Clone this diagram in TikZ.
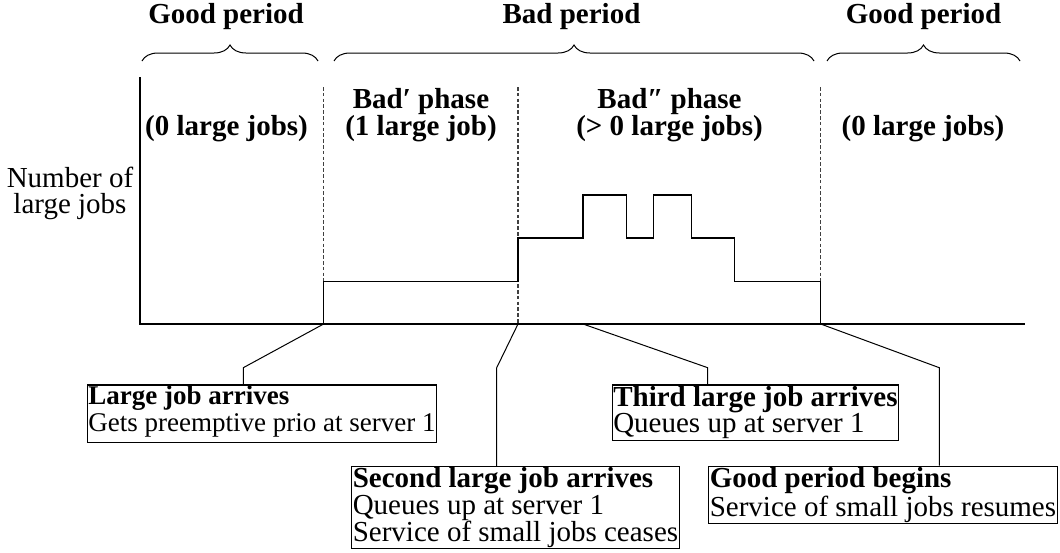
\documentclass[tikz,border=0pt]{standalone}
\usepackage{fontspec}
\setmainfont{Liberation Serif}
\usetikzlibrary{decorations.pathreplacing}
\begin{document}
\begin{tikzpicture}[x=0.5pt,y=-0.5pt,
  hdr/.style={font=\fontsize{14.5pt}{13.35pt}\selectfont\bfseries, anchor=base, inner sep=0pt},
  lbl/.style={font=\fontsize{14.5pt}{12.8pt}\selectfont, inner sep=0pt, align=center},
  evbox/.style={draw, line width=0.6pt, align=left, inner sep=0.6pt, font=\fontsize{14.5pt}{13.35pt}\selectfont},
  axisline/.style={line width=0.65pt},
  guide/.style={dash pattern=on 1.8pt off 1.1pt, line width=0.55pt, black!75},
  curve/.style={line width=0.6pt},
  leader/.style={line width=0.5pt},
  br/.style={decorate, decoration={brace, amplitude=8pt}, line width=0.5pt}
]
\useasboundingbox (0,0) rectangle (1060,552);

% period labels and braces
\node[hdr] (gp1) at (226,23) {Good period};
\node[hdr] (bp) at (571.5,23) {Bad period};
\node[hdr] (gp2) at (923.5,23) {Good period};
\draw[br] (142,61) -- (318,61);
\draw[br] (334,61) -- (814,61);
\draw[br] (827,61) -- (1020,61);

% phase labels
\node[hdr] (z1) at (226.5,135) {(0 large jobs)};
\node[hdr] (ph1) at (421,108) {Bad′ phase};
\node[hdr] (ph1b) at (421,135) {(1 large job)};
\node[hdr] (ph2) at (669.5,108) {Bad″ phase};
\node[hdr] (ph2b) at (669.5,135) {(> 0 large jobs)};
\node[hdr] (z2) at (923,135) {(0 large jobs)};

% y label
\node[lbl, anchor=north] (yl) at (70,167) {Number of\\large jobs};

% axes
\coordinate (O) at (140,324);
\draw[axisline] (140,77) -- (O) -- (1025,324);

% key time points
\coordinate (t1) at (323.6,324);
\coordinate (t2) at (518,324);
\coordinate (t3) at (583,324);
\coordinate (t4) at (820.7,324);

% dashed guides
\draw[guide] (323.6,87) -- (t1);
\draw[guide] (518,87) -- (t2);
\draw[guide] (820.7,87) -- (t4);

% step curve
\draw[curve] (t1) -- (323.6,281.7) -- (518,281.7) -- (518,238) -- (583,238) -- (583,195)
  -- (626.4,195) -- (626.4,238) -- (653.2,238) -- (653.2,195) -- (691.4,195) -- (691.4,238)
  -- (734.3,238) -- (734.3,281.7) -- (820.7,281.7) -- (t4);

% event boxes
\node[evbox, anchor=north east, font=\fontsize{13.5pt}{13.35pt}\selectfont] (b1) at (437.3,384.3)
  {\textbf{Large job arrives}\\Gets preemptive prio at server 1\rule[-5pt]{0pt}{5pt}};
\node[evbox, anchor=north west] (b2) at (351,466)
  {\textbf{Second large job arrives}\\Queues up at server 1\\Service of small jobs ceases};
\node[evbox, anchor=north west] (b3) at (611.5,384.3)
  {\textbf{Third large job arrives}\\Queues up at server 1};
\node[evbox, anchor=north west] (b4) at (708,465.5)
  {\textbf{Good period begins}\\Service of small jobs resumes};

% leaders
\coordinate (k1) at (243.3,367.7);
\coordinate (k2) at (496.7,367.7);
\coordinate (k3) at (707.7,367.7);
\coordinate (k4) at (939.3,367.7);
\draw[leader] (t1) -- (k1) -- (k1 |- b1.north);
\draw[leader] (t2) -- (k2) -- (k2 |- b2.north);
\draw[leader] (t3) -- (k3) -- (k3 |- b3.north);
\draw[leader] (t4) -- (k4) -- (k4 |- b4.north);
\end{tikzpicture}
\end{document}
